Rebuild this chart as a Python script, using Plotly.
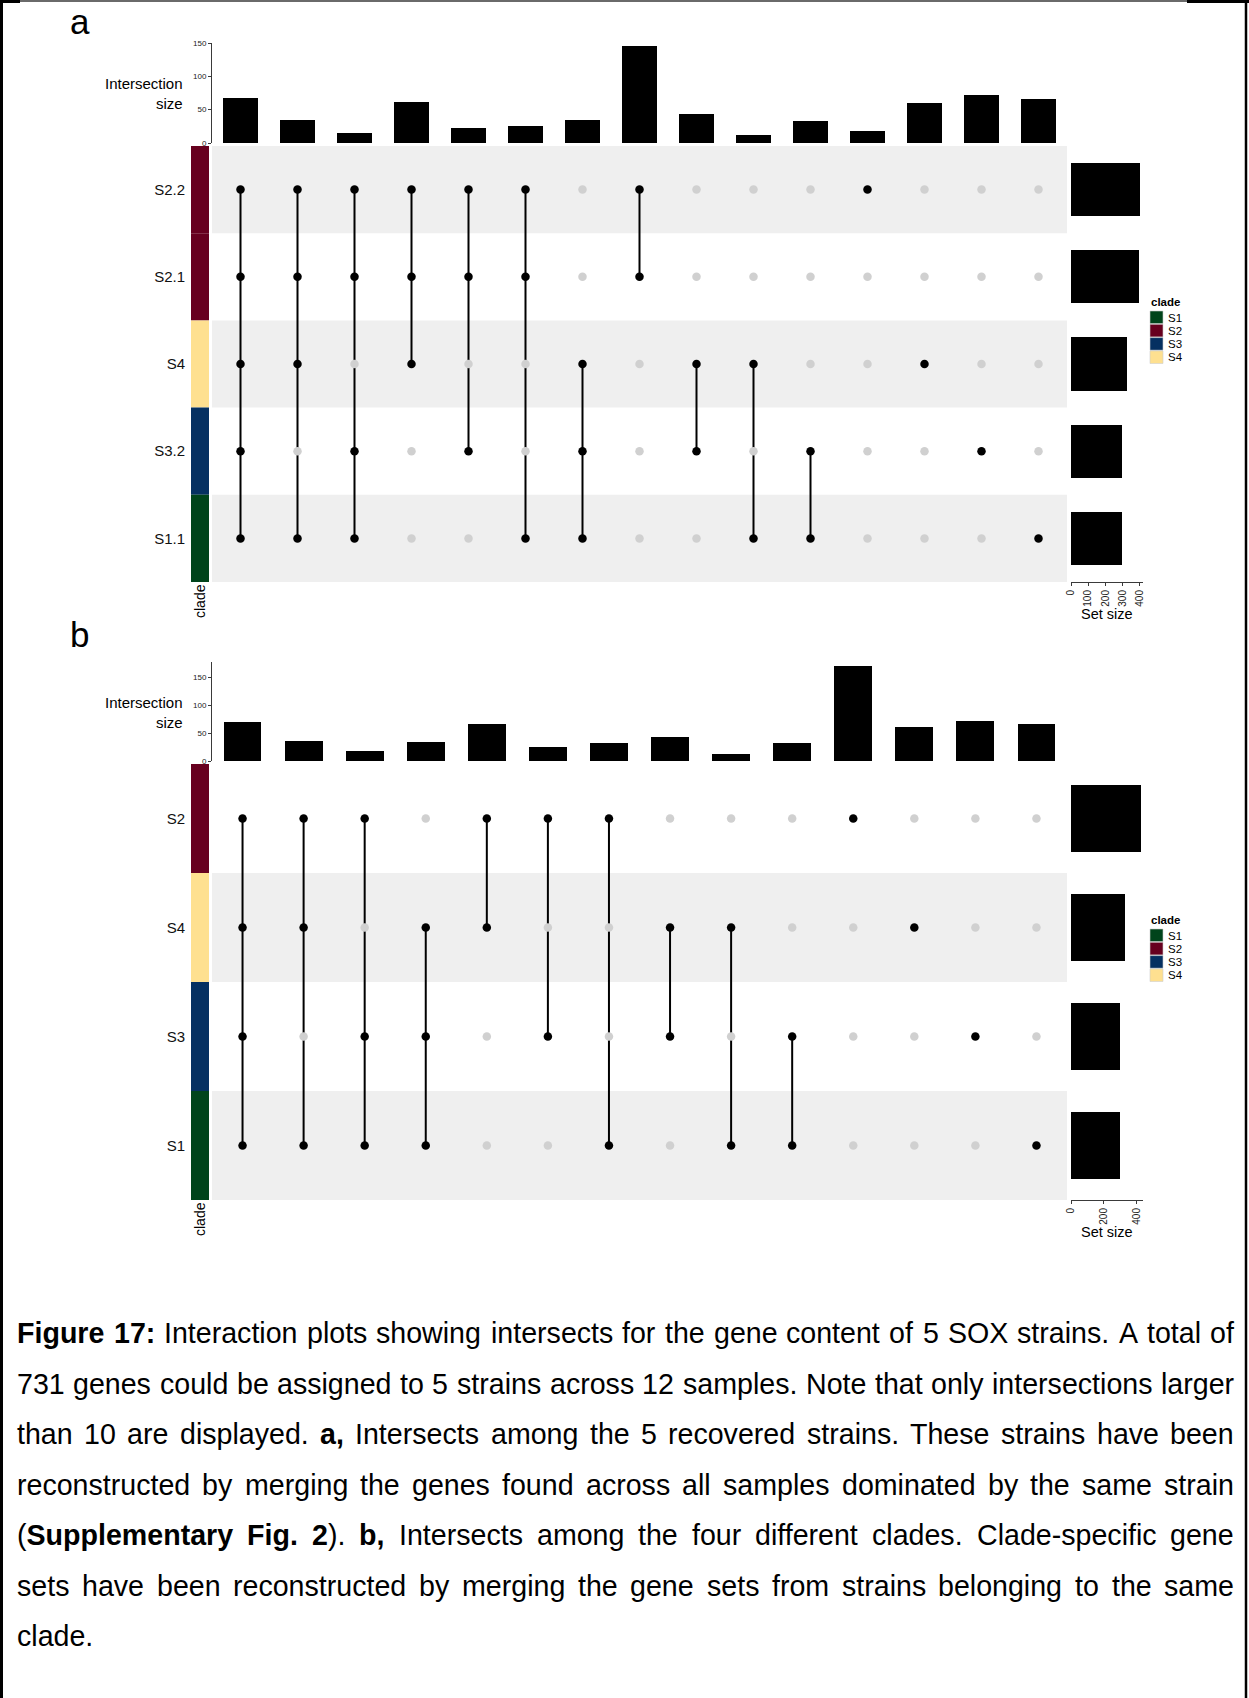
import plotly.graph_objects as go

W, H = 1249, 1698


def px_x(v):
    return v / W


def px_y(v):
    return 1 - v / H


# ---------------- data ----------------
clade_names = ["S1", "S2", "S3", "S4"]
clade_colors = ["#00441B", "#67001F", "#053061", "#FEE090"]

# panel a: strains
sets_a = ["S2.2", "S2.1", "S4", "S3.2", "S1.1"]
clade_of_a = ["S2", "S2", "S4", "S3", "S1"]
set_size_a = [401, 395, 326, 298, 297]
inter_size_a = [68, 35, 15, 62, 22, 25, 34, 145, 43, 12, 33, 18, 60, 72, 66]
members_a = [
    ["S2.2", "S2.1", "S4", "S3.2", "S1.1"],
    ["S2.2", "S2.1", "S4", "S1.1"],
    ["S2.2", "S2.1", "S3.2", "S1.1"],
    ["S2.2", "S2.1", "S4"],
    ["S2.2", "S2.1", "S3.2"],
    ["S2.2", "S2.1", "S1.1"],
    ["S4", "S3.2", "S1.1"],
    ["S2.2", "S2.1"],
    ["S4", "S3.2"],
    ["S4", "S1.1"],
    ["S3.2", "S1.1"],
    ["S2.2"],
    ["S4"],
    ["S3.2"],
    ["S1.1"],
]
bar_ticks_a = [0, 50, 100, 150]
set_ticks_a = [0, 100, 200, 300, 400]

# panel b: clades
sets_b = ["S2", "S4", "S3", "S1"]
clade_of_b = ["S2", "S4", "S3", "S1"]
set_size_b = [422, 327, 300, 296]
inter_size_b = [69, 36, 18, 34, 66, 25, 32, 43, 12, 33, 170, 60, 72, 66]
members_b = [
    ["S2", "S4", "S3", "S1"],
    ["S2", "S4", "S1"],
    ["S2", "S3", "S1"],
    ["S4", "S3", "S1"],
    ["S2", "S4"],
    ["S2", "S3"],
    ["S2", "S1"],
    ["S4", "S3"],
    ["S4", "S1"],
    ["S3", "S1"],
    ["S2"],
    ["S4"],
    ["S3"],
    ["S1"],
]
bar_ticks_b = [0, 50, 100, 150]
set_ticks_b = [0, 200, 400]

caption_lines = [
    "*Figure 17:* Interaction plots showing intersects for the gene content of 5 SOX strains. A total of",
    "731 genes could be assigned to 5 strains across 12 samples. Note that only intersections larger",
    "than 10 are displayed. *a,* Intersects among the 5 recovered strains. These strains have been",
    "reconstructed by merging the genes found across all samples dominated by the same strain",
    "(*Supplementary Fig. 2*). *b,* Intersects among the four different clades. Clade-specific gene",
    "sets have been reconstructed by merging the gene sets from strains belonging to the same",
    "clade.",
]

FONT = "Liberation Sans, Arial, Helvetica, sans-serif"
fig = go.Figure()
shapes = []
annotations = []


def add_upset(sets, clade_of, set_sizes, inter_sizes, members, bar_ticks, set_ticks,
              ids, g, label):
    xb, yb, xm, ym, xs, ys = ids
    ncol = len(inter_sizes)
    nrow = len(sets)
    cols = list(range(1, ncol + 1))
    ypos = [nrow - 1 - i for i in range(nrow)]

    # intersection size bars
    fig.add_trace(go.Bar(x=cols, y=inter_sizes, width=0.62,
                         marker=dict(color="black", line=dict(width=0)),
                         xaxis=xb, yaxis=yb, showlegend=False, hoverinfo="skip"))
    # connecting lines
    lx, ly = [], []
    for c, mem in zip(cols, members):
        rows = [ypos[sets.index(m)] for m in mem]
        if len(rows) > 1:
            lx += [c, c, None]
            ly += [min(rows), max(rows), None]
    fig.add_trace(go.Scatter(x=lx, y=ly, mode="lines", line=dict(color="black", width=2),
                             xaxis=xm, yaxis=ym, showlegend=False, hoverinfo="skip"))
    gx, gy, bx, by = [], [], [], []
    for c, mem in zip(cols, members):
        for i, s in enumerate(sets):
            if s in mem:
                bx.append(c); by.append(ypos[i])
            else:
                gx.append(c); gy.append(ypos[i])
    fig.add_trace(go.Scatter(x=gx, y=gy, mode="markers",
                             marker=dict(color="#d0d0d0", size=8.5, line=dict(width=0)),
                             xaxis=xm, yaxis=ym, showlegend=False, hoverinfo="skip"))
    fig.add_trace(go.Scatter(x=bx, y=by, mode="markers",
                             marker=dict(color="black", size=8.5, line=dict(width=0)),
                             xaxis=xm, yaxis=ym, showlegend=False, hoverinfo="skip"))
    # set size bars
    fig.add_trace(go.Bar(x=set_sizes, y=ypos, orientation="h", width=0.61,
                         marker=dict(color="black", line=dict(width=0)),
                         xaxis=xs, yaxis=ys, showlegend=False, hoverinfo="skip"))

    def key(a):
        return a[0] + "axis" + a[1:]

    axis_line = "#3a3a3a"
    fig.update_layout(**{
        key(xb): dict(domain=[px_x(g["left"]), px_x(g["right"])], range=[0.5, ncol + 0.5],
                      visible=False, anchor=yb, automargin=False),
        key(yb): dict(domain=[px_y(g["bar_bottom"]), px_y(g["bar_top"])], range=[0, g["bar_max"]],
                      anchor=xb, showline=True, linecolor=axis_line, linewidth=1,
                      ticks="outside", ticklen=3, tickcolor=axis_line, tickvals=bar_ticks,
                      tickfont=dict(size=8, color="#222"), showgrid=False, zeroline=False,
                      automargin=False),
        key(xm): dict(domain=[px_x(g["left"]), px_x(g["right"])], range=[0.5, ncol + 0.5],
                      visible=False, anchor=ym, automargin=False),
        key(ym): dict(domain=[px_y(g["mat_bottom"]), px_y(g["mat_top"])], range=[-0.5, nrow - 0.5],
                      anchor=xm, tickvals=ypos, ticktext=sets, ticks="", showline=False,
                      showgrid=False, zeroline=False, ticklabelstandoff=26,
                      tickfont=dict(size=15, color="#111"), automargin=False),
        key(xs): dict(domain=[px_x(g["ss_left"]), px_x(g["ss_right"])], range=[0, g["ss_max"]],
                      anchor=ys, showline=True, linecolor=axis_line, linewidth=1,
                      ticks="outside", ticklen=3, tickcolor=axis_line, tickvals=set_ticks,
                      tickangle=-90, tickfont=dict(size=10, color="#222"),
                      showgrid=False, zeroline=False, automargin=False),
        key(ys): dict(domain=[px_y(g["mat_bottom"]), px_y(g["mat_top"])], range=[-0.5, nrow - 0.5],
                      anchor=xs, visible=False, automargin=False),
    })

    # shaded rows & clade colour bar
    for i in range(nrow):
        y = ypos[i]
        if y % 2 == 0:
            shapes.append(dict(type="rect", xref=xm + " domain", yref=ym, x0=0, x1=1,
                               y0=y - 0.5, y1=y + 0.5, fillcolor="#efefef",
                               line=dict(width=0), layer="below"))
        col = clade_colors[clade_names.index(clade_of[i])]
        shapes.append(dict(type="rect", xref="paper", yref=ym, x0=px_x(191), x1=px_x(209),
                           y0=y - 0.5, y1=y + 0.5, fillcolor=col, line=dict(width=0),
                           layer="above"))

    # panel label
    lab = dict(text=label, x=px_x(69), xref="paper", yref="paper", xanchor="left",
               showarrow=False, borderpad=0, font=dict(size=35, family=FONT, color="black"))
    if g["label_top"] is not None:
        lab.update(y=px_y(g["label_top"]), yanchor="top")
    else:
        lab.update(y=px_y(g["label_y"]), yanchor="middle")
    annotations.append(lab)

    annotations.append(dict(text="Intersection", x=px_x(185), y=px_y(g["ititle_y"]),
                            xref="paper", yref="paper", xanchor="right", yanchor="middle",
                            showarrow=False, font=dict(size=15, family=FONT, color="black")))
    annotations.append(dict(text="size", x=px_x(185), y=px_y(g["ititle_y"] + 20.5),
                            xref="paper", yref="paper", xanchor="right", yanchor="middle",
                            showarrow=False, font=dict(size=15, family=FONT, color="black")))
    annotations.append(dict(text="clade", x=px_x(200), y=px_y(g["mat_bottom"] + 19), textangle=-90,
                            xref="paper", yref="paper", xanchor="center", yanchor="middle",
                            showarrow=False, font=dict(size=14, family=FONT, color="black")))
    annotations.append(dict(text="Set size", x=px_x(1107), y=px_y(g["mat_bottom"] + 32),
                            xref="paper", yref="paper", xanchor="center", yanchor="middle",
                            showarrow=False, font=dict(size=14.5, family=FONT, color="black")))
    # legend
    annotations.append(dict(text="<b>clade</b>", x=px_x(1149), y=px_y(g["leg_y"]),
                            xref="paper", yref="paper", xanchor="left", yanchor="middle",
                            showarrow=False, font=dict(size=11.5, family=FONT, color="black")))
    for k, (nm, colr) in enumerate(zip(clade_names, clade_colors)):
        y0 = g["leg_y"] + 8.5 + k * 13.3
        shapes.append(dict(type="rect", xref="paper", yref="paper", x0=px_x(1150), x1=px_x(1163),
                           y0=px_y(y0), y1=px_y(y0 + 12.6), fillcolor=colr,
                           line=dict(width=0.6, color="#cfcfcf")))
        annotations.append(dict(text=nm, x=px_x(1166), y=px_y(y0 + 6.5), xref="paper", yref="paper",
                                xanchor="left", yanchor="middle", showarrow=False,
                                font=dict(size=11.5, family=FONT, color="black")))


geom_a = dict(left=212, right=1067, bar_top=43, bar_bottom=143, bar_max=150,
              mat_top=146, mat_bottom=582, ss_left=1071, ss_right=1143, ss_max=420,
              label_top=0.5, label_y=None, ititle_y=83, leg_y=302.5)
geom_b = dict(left=212, right=1067, bar_top=662, bar_bottom=761, bar_max=177,
              mat_top=764, mat_bottom=1200, ss_left=1071, ss_right=1143, ss_max=437,
              label_top=None, label_y=634, ititle_y=702, leg_y=920.5)

add_upset(sets_a, clade_of_a, set_size_a, inter_size_a, members_a, bar_ticks_a, set_ticks_a,
          ("x", "y", "x2", "y2", "x3", "y3"), geom_a, "a")
add_upset(sets_b, clade_of_b, set_size_b, inter_size_b, members_b, bar_ticks_b, set_ticks_b,
          ("x4", "y4", "x5", "y5", "x6", "y6"), geom_b, "b")

# ---------------- caption (justified, Arial metrics) ----------------
REG = dict(zip("abcdefghijklmnopqrstuvwxyz",
               [556, 556, 500, 556, 556, 278, 556, 556, 222, 222, 500, 222, 833, 556, 556, 556, 556,
                333, 500, 278, 556, 500, 722, 500, 500, 500]))
REG.update(dict(zip("ABCDEFGHIJKLMNOPQRSTUVWXYZ",
                    [667, 667, 722, 722, 667, 611, 778, 722, 278, 500, 667, 556, 833, 722, 778, 667,
                     778, 722, 667, 611, 722, 667, 944, 667, 667, 611])))
REG.update({d: 556 for d in "0123456789"})
REG.update({" ": 278, ".": 278, ",": 278, ":": 278, "(": 333, ")": 333, "-": 333})
BOLD = dict(zip("abcdefghijklmnopqrstuvwxyz",
                [556, 611, 556, 611, 556, 333, 611, 611, 278, 278, 556, 278, 889, 611, 611, 611, 611,
                 389, 556, 333, 611, 556, 778, 556, 556, 500]))
BOLD.update(dict(zip("ABCDEFGHIJKLMNOPQRSTUVWXYZ",
                     [722, 722, 722, 722, 667, 611, 778, 722, 278, 556, 722, 611, 833, 722, 778, 667,
                      778, 722, 667, 611, 722, 667, 944, 667, 667, 611])))
BOLD.update({d: 556 for d in "0123456789"})
BOLD.update({" ": 278, ".": 278, ",": 278, ":": 333, "(": 333, ")": 333, "-": 333})

CAP_SIZE = 28.6
CAP_L, CAP_R = 16, 1233
CAP_Y0, CAP_DY = 1333, 50.5

bold = False
for li, line in enumerate(caption_lines):
    words = []
    for word in line.split(" "):
        runs, cur = [], ""
        for ch in word:
            if ch == "*":
                if cur:
                    runs.append((cur, bold))
                cur = ""
                bold = not bold
            else:
                cur += ch
        if cur:
            runs.append((cur, bold))
        wpx = sum(sum((BOLD if b else REG).get(c, 556) for c in t) for t, b in runs) / 1000 * CAP_SIZE
        html = "".join(f"<b>{t}</b>" if b else t for t, b in runs)
        words.append((html, wpx))
    total = sum(w for _, w in words)
    space = 278 / 1000 * CAP_SIZE
    if li < len(caption_lines) - 1 and len(words) > 1:
        gap = max((CAP_R - CAP_L - total) / (len(words) - 1), 0.6 * space)
    else:
        gap = space
    x = CAP_L
    yy = CAP_Y0 + li * CAP_DY
    for html, wpx in words:
        annotations.append(dict(text=html, x=px_x(x - 1), y=px_y(yy), xref="paper", yref="paper",
                                xanchor="left", yanchor="middle", showarrow=False,
                                font=dict(size=CAP_SIZE, family=FONT, color="black")))
        x += wpx + gap

# ---------------- page frame ----------------
frame = [
    (0, 1.5, 20, 1.5, "black", 3),
    (20, 1, 1187, 1, "#6a6a6a", 2),
    (1187, 1.5, 1249, 1.5, "black", 3),
    (1.5, 0, 1.5, H, "black", 3),
    (1246, 0, 1246, H, "black", 2.5),
]
for x0, y0, x1, y1, c, w in frame:
    shapes.append(dict(type="line", xref="paper", yref="paper", x0=px_x(x0), y0=px_y(y0),
                       x1=px_x(x1), y1=px_y(y1), line=dict(color=c, width=w), layer="above"))

fig.update_layout(width=W, height=H, margin=dict(l=0, r=0, t=0, b=0, autoexpand=False),
                  paper_bgcolor="white", plot_bgcolor="rgba(0,0,0,0)",
                  font=dict(family=FONT, color="black"), bargap=0,
                  shapes=shapes, annotations=annotations, showlegend=False)

fig.write_html("out.html")
